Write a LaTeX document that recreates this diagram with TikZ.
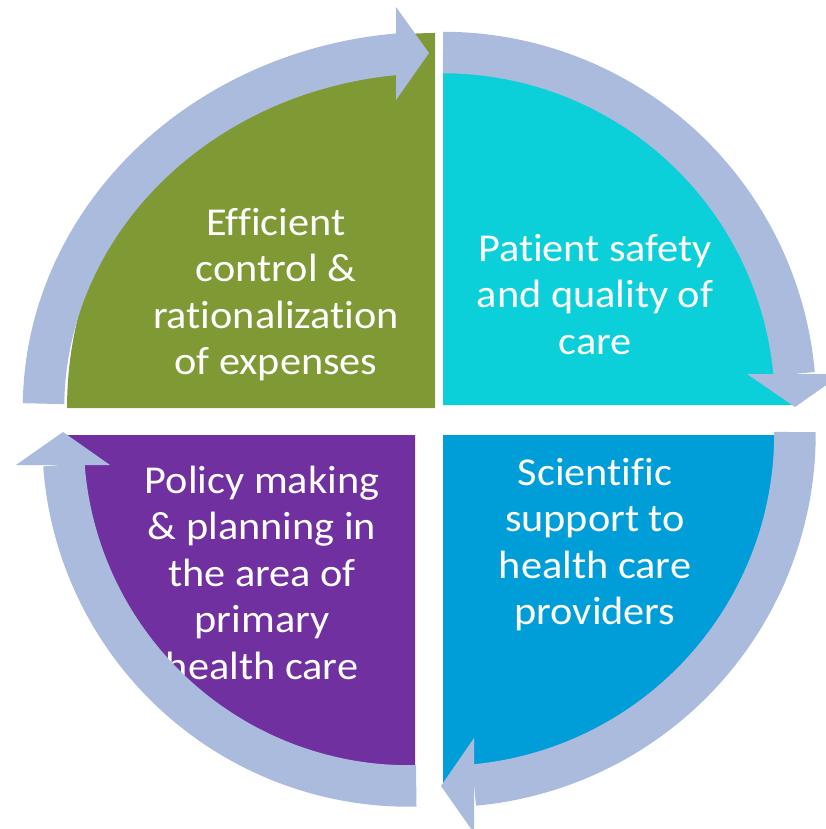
\documentclass[tikz,border=0pt]{standalone}
\usepackage{fontspec}
\setmainfont{Carlito}[Ligatures=NoCommon, FakeStretch=1.07]
\definecolor{arrowblue}{HTML}{ABBBDE}
\definecolor{qgreen}{HTML}{7F9935}
\definecolor{qcyan}{HTML}{0BCFD9}
\definecolor{qblue}{HTML}{009ED9}
\definecolor{qpurple}{HTML}{7030A0}
\begin{document}
\begin{tikzpicture}[x=1pt,y=-1pt,
  lbl/.style={text=white, font=\fontsize{39.5}{46.7}\selectfont, inner sep=0pt, anchor=base},
  ring/.style={draw=arrowblue, line width=41.5pt, line cap=butt},
  headtip/.style={fill=arrowblue}]
\useasboundingbox (0,0) rectangle (826,829);
\clip (0,0) rectangle (826,829);
% quadrants
\fill[qgreen] (435,408) -- plot[domain=180:270, samples=60] ({435+368*cos(\x)},{408+375*sin(\x)}) -- cycle;
\fill[qcyan] (443,405) -- plot[domain=270:360, samples=60] ({443+355*cos(\x)},{405+355*sin(\x)}) -- cycle;
\fill[qblue] (443,435) -- plot[domain=0:90, samples=60] ({443+352*cos(\x)},{435+352*sin(\x)}) -- cycle;
\fill[qpurple] (415,435) -- plot[domain=90:180, samples=60] ({415+348*cos(\x)},{435+348*sin(\x)}) -- cycle;
% texts
\node[lbl] (g1) at (276,235) {Efficient};
\node[lbl] (g2) at (276,281.5) {control \&};
\node[lbl] (g3) at (276,328) {rationalization};
\node[lbl] (g4) at (276,374.5) {of expenses};
\node[lbl] (c1) at (595,261.5) {Patient safety};
\node[lbl] (c2) at (595,307.5) {and quality of};
\node[lbl] (c3) at (595,354) {care};
\node[lbl] (b1) at (595,485) {Scientific};
\node[lbl] (b2) at (595,531.5) {support to};
\node[lbl] (b3) at (595,578) {health care};
\node[lbl] (b4) at (595,624.5) {providers};
\node[lbl] (p1) at (262,493) {Policy making};
\node[lbl] (p2) at (262,539.5) {\& planning in};
\node[lbl] (p3) at (262,586) {the area of};
\node[lbl] (p4) at (262,632.5) {primary};
\node[lbl] (p5) at (262,679) {health care};
% arrows
\draw[ring] plot[domain=180.7:264.7, samples=90] ({435+391.5*cos(\x)},{408+355.5*sin(\x)});
\fill[headtip] (396,7) -- (429,53) -- (396,100) -- cycle;
\draw[ring] plot[domain=270:354.95, samples=90] ({443+352.5*cos(\x)},{405+352.5*sin(\x)});
\fill[headtip] (747,374) -- (795,407) -- (842,374) -- cycle;
\draw[ring] plot[domain=-0.24:84.8, samples=90] ({442+353*cos(\x)},{433.5+353*sin(\x)});
\fill[headtip] (474,738) -- (441,786) -- (474,833) -- cycle;
\draw[ring] plot[domain=88.8:175.9, samples=90] ({409+346*cos(\x)},{440+346*sin(\x)});
\fill[headtip] (16,465) -- (63,432) -- (110,465) -- cycle;
\end{tikzpicture}
\end{document}
